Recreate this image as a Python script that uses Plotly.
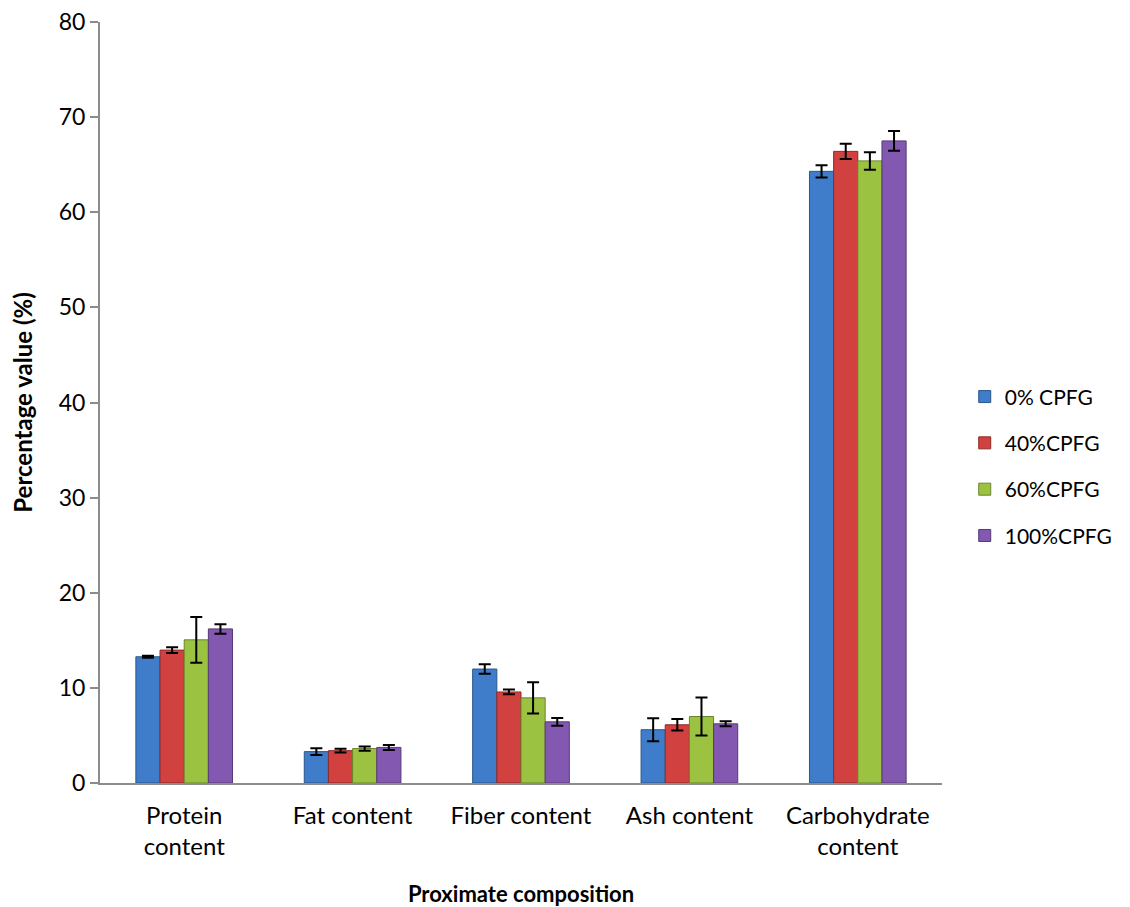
import plotly.graph_objects as go

categories = ["Protein<br>content", "Fat content", "Fiber content", "Ash content", "Carbohydrate<br>content"]
series_names = ["0% CPFG", "40%CPFG", "60%CPFG", "100%CPFG"]

v0 = [13.27, 3.30, 11.98, 5.60, 64.3]
v40 = [13.97, 3.40, 9.57, 6.12, 66.4]
v60 = [15.05, 3.62, 8.95, 6.99, 65.4]
v100 = [16.20, 3.74, 6.43, 6.22, 67.5]

e0 = [0.10, 0.35, 0.50, 1.20, 0.65]
e40 = [0.30, 0.20, 0.25, 0.60, 0.80]
e60 = [2.40, 0.23, 1.65, 2.00, 0.92]
e100 = [0.50, 0.26, 0.40, 0.26, 1.03]

colors = ["#3F7CC9", "#D0413F", "#9CC242", "#8358B1"]
edges = ["#2A5689", "#8E2B2A", "#6A842C", "#563A76"]

fig = go.Figure()
for name, vals, errs, c, ec in zip(series_names, [v0, v40, v60, v100], [e0, e40, e60, e100], colors, edges):
    fig.add_trace(go.Bar(
        x=categories, y=vals, name=name, legendgroup=name,
        marker=dict(color=c, line=dict(color=ec, width=1)),
        error_y=dict(type="data", array=errs, visible=True, color="black", thickness=2, width=6),
    ))

font_family = "Lato, Carlito, Calibri, sans-serif"
fig.update_layout(
    width=1122, height=899,
    barmode="group", bargap=0.426, bargroupgap=0,
    plot_bgcolor="white", paper_bgcolor="white",
    margin=dict(l=92, r=185, t=14, b=124),
    font=dict(family=font_family, size=22, color="black"),
    legend=dict(x=1.027, y=0.416, xanchor="left", yanchor="middle",
                font=dict(size=21), tracegroupgap=16, itemwidth=30),
    xaxis=dict(showline=True, linecolor="#8c8c8c", linewidth=2, ticks="",
               showgrid=False, tickfont=dict(size=24), automargin=False,
               ticklabelstandoff=10,
               title=dict(text="<b>Proximate composition</b>", font=dict(size=22), standoff=36)),
    yaxis=dict(range=[0, 80], dtick=10, showline=True, linecolor="#8c8c8c", linewidth=2,
               ticks="outside", ticklen=8, tickcolor="#8c8c8c", tickwidth=2, showgrid=False,
               zeroline=False, tickfont=dict(size=23), automargin=False,
               ticklabeloverflow="allow",
               title=dict(text="<b>Percentage value (%)</b>", font=dict(size=24), standoff=22)),
)

fig.write_html("out.html")
